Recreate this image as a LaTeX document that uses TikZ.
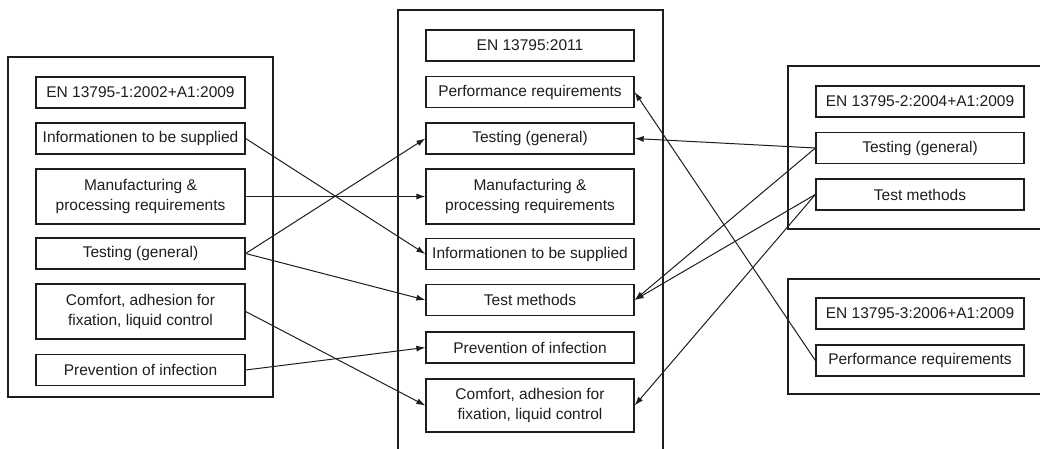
\documentclass[tikz,border=0pt]{standalone}
\usepackage{fontspec}
\setmainfont{Liberation Sans}
\usepackage{tikz}
\usetikzlibrary{arrows.meta}
\definecolor{enink}{HTML}{1E1E1E}

\begin{document}
\begin{tikzpicture}[x=1pt,y=-1pt,line join=miter,
  >={Latex[length=9pt,width=6pt]},
  outer/.style={draw=enink,line width=1.3pt},
  std/.style={draw=enink,line width=1.3pt,minimum height=31pt,inner sep=0pt,
    align=center,text=enink,font=\fontsize{15.5}{20}\selectfont},
  lcol/.style={std,minimum width=209pt},
  mcol/.style={std,minimum width=208pt},
  rcol/.style={std,minimum width=208pt},
  tall/.style={minimum height=55pt},
  link/.style={->,draw=enink,line width=1pt}]
\useasboundingbox (0,0) rectangle (1040,449);
\fill[white] (0,0) rectangle (1040,449);

% Teil 1
\draw[outer] (8,57) rectangle (273,397);
\node[lcol] (l0) at (140.5,92.5) {EN 13795-1:2002+A1:2009};
\node[lcol] (l1) at (140.5,138.5) {Informationen to be supplied};
\node[lcol,tall] (l2) at (140.5,196.5) {Manufacturing \&\\processing requirements};
\node[lcol] (l3) at (140.5,253.5) {Testing (general)};
\node[lcol,tall] (l4) at (140.5,311.5) {Comfort, adhesion for\\fixation, liquid control};
\node[lcol] (l5) at (140.5,370) {Prevention of infection};

% EN 13795:2011 (unten offen)
\draw[outer] (398,452)--(398,10)--(663,10)--(663,452);
\node[mcol] (m0) at (530,45.5) {EN 13795:2011};
\node[mcol] (m1) at (530,92) {Performance requirements};
\node[mcol] (m2) at (530,138.5) {Testing (general)};
\node[mcol,tall] (m3) at (530,196.5) {Manufacturing \&\\processing requirements};
\node[mcol] (m4) at (530,254) {Informationen to be supplied};
\node[mcol] (m5) at (530,300) {Test methods};
\node[mcol] (m6) at (530,347.5) {Prevention of infection};
\node[mcol,tall,minimum height=53pt] (m7) at (530,405.5) {Comfort, adhesion for\\fixation, liquid control};

% Teil 2 und Teil 3 (rechts offen)
\draw[outer] (1043,66)--(788,66)--(788,229)--(1043,229);
\node[rcol] (r0) at (920,101.5) {EN 13795-2:2004+A1:2009};
\node[rcol] (r1) at (920,148) {Testing (general)};
\node[rcol] (r2) at (920,194.5) {Test methods};
\draw[outer] (1043,279)--(788,279)--(788,394)--(1043,394);
\node[rcol] (s0) at (920,313.5) {EN 13795-3:2006+A1:2009};
\node[rcol] (s1) at (920,360.5) {Performance requirements};

% Zuordnungen
\draw[link] (l1.east)--(m4.west);
\draw[link] (l2.east)--(m3.west);
\draw[link] (l3.east)--(m2.west);
\draw[link] (l3.east)--(m5.west);
\draw[link] (l4.east)--(m7.west);
\draw[link] (l5.east)--(m6.west);
\draw[link] (r1.west)--(m2.east);
\draw[link] (r1.west)--(m5.east);
\draw[link] (r2.west)--(m5.east);
\draw[link] (r2.west)--(m7.east);
\draw[link] (s1.west)--(m1.east);
\end{tikzpicture}
\end{document}
